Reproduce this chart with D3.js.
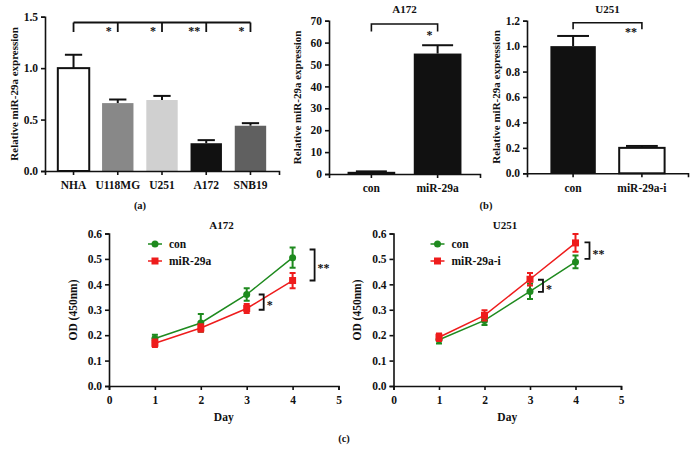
<!DOCTYPE html>
<html>
<head>
<meta charset="utf-8">
<script src="https://cdnjs.cloudflare.com/ajax/libs/d3/7.8.5/d3.min.js"></script>
<style>
  body { margin: 0; background: #fff; }
  svg text { font-family: "Liberation Serif", "DejaVu Serif", serif; font-weight: bold; fill: #111; }
</style>
</head>
<body>
<div id="fig"></div>
<script>
// panel (a) cell lines
var cellLines = ["NHA", "U118MG", "U251", "A172", "SNB19"];
var cellMeans = [1.0, 0.66, 0.69, 0.27, 0.44];
var cellErr = [0.13, 0.035, 0.04, 0.03, 0.025];
var cellFill = ["#fff", "#888", "#d0d0d0", "#111", "#606060"];
var cellStars = ["*", "*", "**", "*"];

// panel (b)
var b1Groups = ["con", "miR-29a"];
var b1Means = [1.0, 55.0];
var b1Err = [0.2, 3.8];
var b2Groups = ["con", "miR-29a-i"];
var b2Means = [1.0, 0.2];
var b2Err = [0.08, 0.015];

// panel (c) growth curves
var days = [1, 2, 3, 4];
var c1Con = [0.187, 0.248, 0.36, 0.505];
var c1ConErr = [0.015, 0.035, 0.025, 0.04];
var c1Mir = [0.168, 0.228, 0.305, 0.415];
var c1MirErr = [0.015, 0.015, 0.018, 0.03];
var c2Con = [0.182, 0.258, 0.372, 0.488];
var c2ConErr = [0.015, 0.018, 0.03, 0.025];
var c2Mir = [0.192, 0.278, 0.42, 0.563];
var c2MirErr = [0.015, 0.02, 0.025, 0.035];

var svg = d3.select("#fig").append("svg")
  .attr("width", 692).attr("height", 460);

function styleAxis(a) {
  a.select(".domain").attr("stroke", "#111").attr("stroke-width", 1.6);
  a.selectAll(".tick line").attr("stroke", "#111").attr("stroke-width", 1.6);
  a.selectAll("text").attr("font-size", 11.5).attr("fill", "#111")
    .attr("font-family", "Liberation Serif").attr("font-weight", "bold");
}

function barChart(opt) {
  var x = d3.scaleBand().domain(opt.cats).range([opt.x0, opt.x1]).padding(opt.pad);
  var y = d3.scaleLinear().domain([0, opt.ymax]).range([opt.y0, opt.y1]);
  var g = svg.append("g");

  // bars
  opt.cats.forEach(function(c, i) {
    var top = y(opt.means[i] + opt.err[i]);
    var cx = x(c) + x.bandwidth() / 2;
    var cw = x.bandwidth() * opt.cap;
    g.append("line").attr("x1", cx).attr("x2", cx)
      .attr("y1", y(opt.means[i])).attr("y2", top)
      .attr("stroke", "#111").attr("stroke-width", 2);
    g.append("line").attr("x1", cx - cw / 2).attr("x2", cx + cw / 2)
      .attr("y1", top).attr("y2", top)
      .attr("stroke", "#111").attr("stroke-width", 2);
    g.append("rect")
      .attr("x", x(c)).attr("width", x.bandwidth())
      .attr("y", y(opt.means[i])).attr("height", y(0) - y(opt.means[i]))
      .attr("fill", opt.fills[i])
      .attr("stroke", opt.fills[i] == "#fff" ? "#111" : "none")
      .attr("stroke-width", 2);
  });

  var ya = g.append("g").attr("transform", "translate(" + opt.x0 + ",0)")
    .call(d3.axisLeft(y).tickValues(opt.ticks).tickFormat(d3.format(opt.fmt)).tickSize(4).tickPadding(3));
  var xa = g.append("g").attr("transform", "translate(0," + opt.y0 + ")")
    .call(d3.axisBottom(x).tickSize(4).tickPadding(4));
  styleAxis(ya);
  styleAxis(xa);
  xa.selectAll("text").attr("dy", "0.9em");

  g.append("text")
    .attr("transform", "translate(" + opt.lx + "," + ((opt.y0 + opt.y1) / 2) + ") rotate(-90)")
    .attr("text-anchor", "middle").attr("dy", "0.35em")
    .attr("font-size", 11)
    .text("Relative miR-29a expression");

  if (opt.title) {
    g.append("text").attr("x", (x(opt.cats[0]) + x(opt.cats[1]) + x.bandwidth()) / 2)
      .attr("y", 13).attr("text-anchor", "middle").attr("font-size", 11)
      .text(opt.title);
  }
  return { x: x, y: y, g: g };
}

// ---- (a)
var pa = barChart({
  cats: cellLines, means: cellMeans, err: cellErr, fills: cellFill,
  x0: 45, x1: 279, y0: 171, y1: 16.7, ymax: 1.5, pad: 0.29, cap: 0.55,
  ticks: [0, 0.5, 1.0, 1.5], fmt: ".1f", lx: 14
});
(function() {
  var cx = function(c) { return pa.x(c) + pa.x.bandwidth() / 2; };
  var by = 22.5, bt = 32;
  pa.g.append("line").attr("x1", cx(cellLines[0])).attr("x2", cx(cellLines[4]))
    .attr("y1", by).attr("y2", by).attr("stroke", "#111").attr("stroke-width", 1.8);
  cellLines.forEach(function(c) {
    pa.g.append("line").attr("x1", cx(c)).attr("x2", cx(c))
      .attr("y1", by).attr("y2", bt).attr("stroke", "#111").attr("stroke-width", 1.8);
  });
  cellStars.forEach(function(s, i) {
    pa.g.append("text").attr("x", cx(cellLines[i + 1]) - 6).attr("y", 35)
      .attr("text-anchor", "end").attr("font-size", 12).attr("font-weight", "normal")
      .attr("fill", "#333").text(s);
  });
})();

// ---- (b) left
var pb1 = barChart({
  cats: b1Groups, means: b1Means, err: b1Err, fills: ["#111", "#111"],
  x0: 329, x1: 480, y0: 174, y1: 20.7, ymax: 70, pad: 0.28, cap: 0.65,
  ticks: d3.range(0, 71, 10), fmt: "d", lx: 297, title: "A172"
});
// ---- (b) right
var pb2 = barChart({
  cats: b2Groups, means: b2Means, err: b2Err, fills: ["#111", "#fff"],
  x0: 527, x1: 688, y0: 173.3, y1: 20.7, ymax: 1.2, pad: 0.34, cap: 0.7,
  ticks: [0, 0.2, 0.4, 0.6, 0.8, 1.0, 1.2], fmt: ".1f", lx: 496, title: "U251"
});

function twoBracket(p, cats, by, bt, star) {
  var l = p.x(cats[0]) + p.x.bandwidth() / 2, r = p.x(cats[1]) + p.x.bandwidth() / 2;
  p.g.append("path").attr("d", "M" + l + "," + bt + "V" + by + "H" + r + "V" + bt)
    .attr("fill", "none").attr("stroke", "#111").attr("stroke-width", 1.6);
  p.g.append("text").attr("x", r - 5).attr("y", bt + 7).attr("text-anchor", "end")
    .attr("font-size", 12).attr("font-weight", "normal").attr("fill", "#333").text(star);
}
twoBracket(pb1, b1Groups, 24, 31.5, "*");
twoBracket(pb2, b2Groups, 22.7, 29.3, "**");

svg.append("text").attr("x", 140).attr("y", 209).attr("text-anchor", "middle")
  .attr("font-size", 10.5).attr("font-weight", "normal").text("(a)");
svg.append("text").attr("x", 486).attr("y", 209).attr("text-anchor", "middle")
  .attr("font-size", 10.5).attr("font-weight", "normal").text("(b)");
svg.append("text").attr("x", 344).attr("y", 442).attr("text-anchor", "middle")
  .attr("font-size", 10.5).attr("font-weight", "normal").text("(c)");

// ---- (c) line charts
var green = "#1e8a1e", red = "#ee1c1c";

function lineChart(opt) {
  var x = d3.scaleLinear().domain([0, 5]).range([opt.x0, opt.x1]);
  var y = d3.scaleLinear().domain([0, 0.6]).range([386, 233.5]);
  var g = svg.append("g");

  var ya = g.append("g").attr("transform", "translate(" + opt.x0 + ",0)")
    .call(d3.axisLeft(y).ticks(6).tickFormat(d3.format(".1f")).tickSize(4).tickPadding(3));
  var xa = g.append("g").attr("transform", "translate(0,386)")
    .call(d3.axisBottom(x).ticks(5).tickFormat(d3.format("d")).tickSize(4).tickPadding(4));
  styleAxis(ya);
  styleAxis(xa);
  xa.selectAll("text").attr("dy", "0.9em");

  var series = [
    { vals: opt.con, err: opt.conErr, color: green, shape: "circle" },
    { vals: opt.mir, err: opt.mirErr, color: red, shape: "square" }
  ];
  var line = d3.line().x(function(d, i) { return x(days[i]); }).y(function(d) { return y(d); });
  series.forEach(function(s) {
    g.append("path").datum(s.vals).attr("d", line)
      .attr("fill", "none").attr("stroke", s.color).attr("stroke-width", 1.5);
    s.vals.forEach(function(v, i) {
      var px = x(days[i]);
      g.append("path")
        .attr("d", "M" + (px - 3) + "," + y(v + s.err[i]) + "H" + (px + 3) +
          "M" + px + "," + y(v + s.err[i]) + "V" + y(v - s.err[i]) +
          "M" + (px - 3) + "," + y(v - s.err[i]) + "H" + (px + 3))
        .attr("stroke", s.color).attr("stroke-width", 2).attr("fill", "none");
      if (s.shape == "circle") {
        g.append("circle").attr("cx", px).attr("cy", y(v)).attr("r", 3.5).attr("fill", s.color);
      } else {
        g.append("rect").attr("x", px - 3.5).attr("y", y(v) - 3.5)
          .attr("width", 7).attr("height", 7).attr("fill", s.color);
      }
    });
  });

  // legend
  var lx = x(0) + opt.legDx;
  [["con", green, "circle", 244], [opt.mirName, red, "square", 261]].forEach(function(d) {
    g.append("line").attr("x1", lx - 7).attr("x2", lx + 7).attr("y1", d[3]).attr("y2", d[3])
      .attr("stroke", d[1]).attr("stroke-width", 1.5);
    if (d[2] == "circle") g.append("circle").attr("cx", lx).attr("cy", d[3]).attr("r", 3.5).attr("fill", d[1]);
    else g.append("rect").attr("x", lx - 3.5).attr("y", d[3] - 3.5).attr("width", 7).attr("height", 7).attr("fill", d[1]);
    g.append("text").attr("x", lx + 14).attr("y", d[3]).attr("dy", "0.35em")
      .attr("font-size", 11.5).text(d[0]);
  });

  // significance brackets
  opt.brackets.forEach(function(b) {
    var bx = x(b.day) + b.dx;
    var ya1 = y(b.top), yb = y(b.bot);
    g.append("path").attr("d", "M" + (bx - 5) + "," + ya1 + "H" + bx + "V" + yb + "H" + (bx - 5))
      .attr("fill", "none").attr("stroke", "#111").attr("stroke-width", 1.8);
    g.append("text").attr("x", bx + 3).attr("y", (ya1 + yb) / 2 + 7)
      .attr("font-size", 12).attr("font-weight", "normal").attr("fill", "#333").text(b.star);
  });

  g.append("text").attr("x", (opt.x0 + x(4.9)) / 2).attr("y", 229)
    .attr("text-anchor", "middle").attr("font-size", 11).text(opt.title);
  g.append("text").attr("x", x(2.5)).attr("y", 421).attr("text-anchor", "middle")
    .attr("font-size", 11.5).text("Day");
  g.append("text").attr("transform", "translate(" + opt.lab + ",310) rotate(-90)")
    .attr("text-anchor", "middle").attr("dy", "0.35em").attr("font-size", 11.5)
    .text("OD (450nm)");
}

lineChart({
  x0: 109, x1: 338.5, con: c1Con, conErr: c1ConErr, mir: c1Mir, mirErr: c1MirErr,
  mirName: "miR-29a", legDx: 46, title: "A172", lab: 73,
  brackets: [
    { day: 4, dx: 22, top: 0.537, bot: 0.415, star: "**" },
    { day: 3, dx: 17, top: 0.36, bot: 0.30, star: "*" }
  ]
});
lineChart({
  x0: 393.5, x1: 621, con: c2Con, conErr: c2ConErr, mir: c2Mir, mirErr: c2MirErr,
  mirName: "miR-29a-i", legDx: 44, title: "U251", lab: 357,
  brackets: [
    { day: 4, dx: 14, top: 0.565, bot: 0.5, star: "**" },
    { day: 3, dx: 13, top: 0.418, bot: 0.37, star: "*" }
  ]
});
</script>
</body>
</html>
